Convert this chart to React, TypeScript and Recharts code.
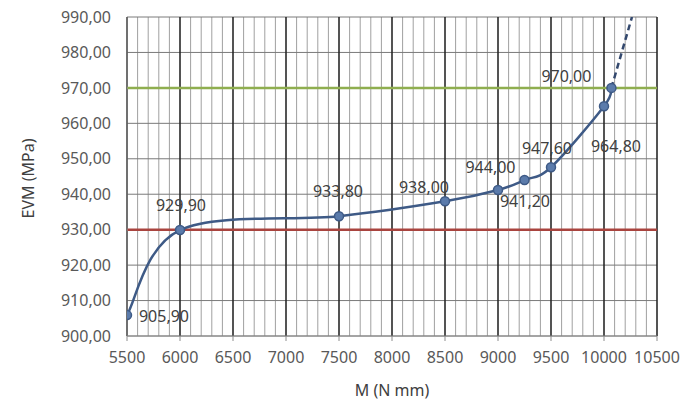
import React from 'react'
import {
  LineChart, Line, XAxis, YAxis, CartesianGrid, ReferenceLine, LabelList
} from 'recharts'

// measured points M (N mm) -> EVM (MPa)
const M_VALUES = [5500, 6000, 7500, 8500, 9000, 9250, 9500, 10000, 10070]
const EVM_VALUES = [905.9, 929.9, 933.8, 938.0, 941.2, 944.0, 947.6, 964.8, 970.0]
// extrapolated trend past the last point
const TREND_M = [10070, 10264]
const TREND_EVM = [970.0, 990.0]

const X_TICKS = [5500, 6000, 6500, 7000, 7500, 8000, 8500, 9000, 9500, 10000, 10500]
const X_MINOR = Array.from({ length: 51 }, (_, i) => 5500 + i * 100)
const Y_TICKS = [900, 910, 920, 930, 940, 950, 960, 970, 980, 990]
const LIMIT_LOW = 930
const LIMIT_HIGH = 970

// label offsets (px) relative to each point, same order as M_VALUES
const LABEL_OFFSETS = [
  [37, 1], [1, -25], [-1, -25], [-21, -14], [27, 11], [-34, -13], [-4, -19], [12, 40], [-45, -12]
]

const mainData = M_VALUES.map((m, i) => ({ m, evm: EVM_VALUES[i] }))
const trendData = TREND_M.map((m, i) => ({ m, evm: TREND_EVM[i] }))

const fmt = (v: number) => v.toFixed(2).replace('.', ',')

const FONT = '"Noto Sans", "Open Sans", sans-serif'

// Excel-like smoothing: Catmull-Rom style bezier, tangent = (next - prev) / 6
function excelCurve(context: any) {
  let pts: number[][] = []
  return {
    areaStart() {},
    areaEnd() {},
    lineStart() { pts = [] },
    point(x: number, y: number) { pts.push([+x, +y]) },
    lineEnd() {
      if (!pts.length) return
      context.moveTo(pts[0][0], pts[0][1])
      for (let i = 0; i < pts.length - 1; i++) {
        const p0 = pts[i - 1] || pts[i]
        const p1 = pts[i]
        const p2 = pts[i + 1]
        const p3 = pts[i + 2] || pts[i + 1]
        context.bezierCurveTo(
          p1[0] + (p2[0] - p0[0]) / 6, p1[1] + (p2[1] - p0[1]) / 6,
          p2[0] - (p3[0] - p1[0]) / 6, p2[1] - (p3[1] - p1[1]) / 6,
          p2[0], p2[1]
        )
      }
    },
  }
}

const PointLabel = (props: any) => {
  const { x, y, value, index } = props
  const [dx, dy] = LABEL_OFFSETS[index] || [0, -15]
  return (
    <text x={x + dx} y={y + dy} textAnchor="middle" dominantBaseline="central"
      fontSize={16} fontFamily={FONT} fill="#404040">
      {fmt(value)}
    </text>
  )
}

export default function App() {
  return (
    <div style={{ position: 'fixed', left: 0, top: 0, background: '#fff' }}>
      <LineChart width={681} height={401} margin={{ top: 17, right: 24, bottom: 30, left: 0 }}>
        <CartesianGrid xAxisId="minor" horizontal={false} stroke="#a0a0a0" strokeWidth={1} />
        <CartesianGrid vertical={false} stroke="#7a7a7a" strokeWidth={1} />
        <CartesianGrid horizontal={false} stroke="#111" strokeWidth={1.3} />
        <XAxis
          xAxisId="minor" type="number" dataKey="m" domain={[5500, 10500]}
          ticks={X_MINOR} interval={0} hide allowDataOverflow
        />
        <XAxis
          type="number" dataKey="m" domain={[5500, 10500]} ticks={X_TICKS} interval={0}
          allowDataOverflow height={35} tickSize={5} tickMargin={11}
          stroke="#8c8c8c" tick={{ fontSize: 16, fontFamily: FONT, fill: '#595959' }}
          label={{
            content: (p: any) => (
              <text x={p.viewBox.x + p.viewBox.width / 2} y={p.viewBox.y + 54}
                textAnchor="middle" dominantBaseline="central"
                fontSize={16} fontFamily={FONT} fill="#404040">M (N mm)</text>
            ),
          }}
        />
        <YAxis
          type="number" domain={[900, 990]} ticks={Y_TICKS} interval={0} allowDataOverflow
          width={127} tickSize={0} tickMargin={16} stroke="#8c8c8c"
          tickFormatter={fmt}
          tick={{ fontSize: 16, fontFamily: FONT, fill: '#595959' }}
          label={{
            content: (p: any) => (
              <text x={28} y={p.viewBox.y + p.viewBox.height / 2 + 2}
                transform={`rotate(-90 28 ${p.viewBox.y + p.viewBox.height / 2 + 2})`}
                textAnchor="middle" dominantBaseline="central"
                fontSize={16} fontFamily={FONT} fill="#404040">EVM (MPa)</text>
            ),
          }}
        />
        <ReferenceLine y={LIMIT_LOW} stroke="#a9443f" strokeWidth={2.5} />
        <ReferenceLine y={LIMIT_HIGH} stroke="#8fae4f" strokeWidth={2.5} />
        <Line
          data={trendData} dataKey="evm" type="linear" stroke="#34496e"
          strokeWidth={2.5} strokeDasharray="6 4" dot={false} isAnimationActive={false}
        />
        <Line
          data={mainData} dataKey="evm" type={excelCurve as any} stroke="#3e5a86"
          strokeWidth={2.5} isAnimationActive={false}
          dot={{ r: 4.5, fill: '#5b7bab', stroke: '#3e5a86', strokeWidth: 1.5 }}
        >
          <LabelList dataKey="evm" content={PointLabel} />
        </Line>
      </LineChart>
    </div>
  )
}
